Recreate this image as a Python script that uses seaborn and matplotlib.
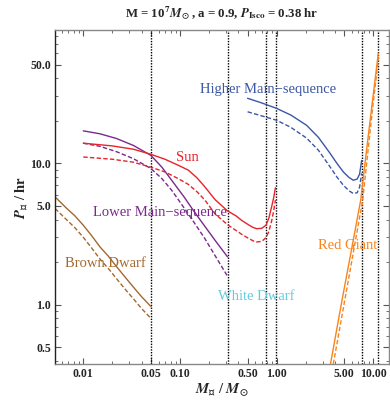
import numpy as np
import pandas as pd
import matplotlib
matplotlib.use("Agg")
import matplotlib.pyplot as plt
from matplotlib.ticker import FixedLocator, FixedFormatter, LogLocator, NullFormatter
import seaborn as sns

# ---------------- data ----------------
bd_x = [0.0051, 0.0067, 0.0082, 0.01, 0.0122, 0.0149, 0.0182, 0.0222, 0.027, 0.033, 0.04, 0.05]
bd_solid = [5.8, 4.82, 4.25, 3.65, 3.08, 2.56, 2.2, 1.85, 1.57, 1.33, 1.14, 0.97]
bd_dashed = [4.8, 4.0, 3.5, 3.0, 2.52, 2.1, 1.8, 1.52, 1.29, 1.1, 0.94, 0.80]

lms_x = [0.01, 0.0149, 0.0221, 0.033, 0.05, 0.065, 0.082, 0.11, 0.137, 0.18, 0.23, 0.31]
lms_solid = [17.0, 16.2, 15.0, 13.4, 11.4, 9.4, 7.6, 5.8, 4.66, 3.6, 2.86, 2.18]
lms_dashed = [13.9, 13.2, 12.1, 10.8, 9.2, 7.8, 6.46, 4.85, 3.9, 2.95, 2.23, 1.59]

sun_x = [0.01, 0.02, 0.033, 0.05, 0.07, 0.096, 0.122, 0.15, 0.181, 0.23, 0.31, 0.38,
         0.434, 0.51, 0.57, 0.62, 0.7, 0.775, 0.83, 0.886, 0.93, 0.97]
sun_solid = [13.9, 13.3, 12.6, 11.6, 10.7, 9.7, 8.96, 7.9, 6.82, 5.55, 4.61, 4.25,
             3.95, 3.68, 3.52, 3.45, 3.47, 3.65, 4.1, 4.92, 5.7, 6.72]
sun_dashed = [11.1, 10.7, 10.2, 9.4, 8.7, 7.8, 7.1, 6.3, 5.5, 4.4, 3.68, 3.35,
              3.15, 2.95, 2.83, 2.78, 2.8, 2.98, 3.3, 3.9, 4.6, 5.5]

hms_x = [0.5, 0.7, 1.0, 1.4, 2.04, 2.7, 3.56, 4.2, 4.89, 5.6, 6.2, 6.8, 7.2, 7.56]
hms_solid = [28.9, 26.8, 24.5, 22.0, 18.6, 15.3, 11.8, 10.0, 8.7, 7.95, 7.6, 7.75, 8.4, 10.5]
hms_dashed = [23.2, 21.7, 20.2, 18.0, 15.1, 12.4, 9.46, 8.0, 7.0, 6.4, 6.12, 6.2, 6.8, 8.5]

rg_x_solid = [3.6, 4.73, 6.01, 7.39, 8.38, 9.67, 11.24]
rg_solid = [0.38, 1.07, 2.56, 5.49, 11.45, 25.9, 60.3]
rg_x_dashed = [3.85, 5.05, 6.35, 7.75, 8.7, 9.9, 11.3]
rg_dashed = [0.38, 1.07, 2.56, 5.49, 11.45, 25.9, 56.0]

vlines_x = [0.05, 0.31, 0.78, 0.975, 7.56, 11.2]

labels = ["Higher Main\u2212sequence", "Sun", "Lower Main\u2212sequence",
          "Brown Dwarf", "White Dwarf", "Red Giant"]
label_x = [0.81, 0.118, 0.0622, 0.0168, 0.61, 5.47]
label_y = [33.6, 11.1, 4.51, 1.96, 1.14, 2.63]

xtick_vals = [0.01, 0.05, 0.1, 0.5, 1.0, 5.0, 10.0]
xtick_labels = ["0.01", "0.05", "0.10", "0.50", "1.00", "5.00", "10.00"]
ytick_vals = [0.5, 1.0, 5.0, 10.0, 50.0]
ytick_labels = ["0.5", "1.0", "5.0", "10.0", "50.0"]

# ---------------- style ----------------
sns.set_style("ticks")
plt.rcParams["font.family"] = ["Liberation Serif", "DejaVu Serif"]
plt.rcParams["font.weight"] = "bold"
plt.rcParams["mathtext.fontset"] = "custom"
plt.rcParams["mathtext.rm"] = "STIXGeneral:bold"
plt.rcParams["mathtext.it"] = "STIXGeneral:italic:bold"
plt.rcParams["mathtext.bf"] = "STIXGeneral:bold"
plt.rcParams["mathtext.fallback"] = "stix"

col_blue = "#3b57a6"
col_red = "#e8232b"
col_purple = "#7a2a8a"
col_brown = "#a3692f"
col_cyan = "#66cade"
col_orange = "#f7841e"

fig = plt.figure(figsize=(3.90, 4.03), dpi=100)
ax = fig.add_axes([55 / 390, 1 - 364 / 403, (389 - 55) / 390, (364 - 30) / 403])

dash = (0, (3.2, 1.6))
lw = 1.0

def draw(x, y, color, ls):
    sns.lineplot(x=x, y=y, ax=ax, color=color, linewidth=lw, sort=False,
                 estimator=None, linestyle=ls)

for x, ys, yd, c in [(bd_x, bd_solid, bd_dashed, col_brown),
                     (lms_x, lms_solid, lms_dashed, col_purple),
                     (sun_x, sun_solid, sun_dashed, col_red),
                     (hms_x, hms_solid, hms_dashed, col_blue)]:
    draw(x, ys, c, "-")
    draw(x, yd, c, dash)

draw(rg_x_solid, rg_solid, col_orange, "-")
draw(rg_x_dashed, rg_dashed, col_orange, dash)

for v in vlines_x:
    ax.axvline(v, color="black", linewidth=1.0, linestyle=(0, (1, 1)), zorder=1)

ax.set_xscale("log")
ax.set_yscale("log")
ax.set_xlim(0.0051, 14.5)
ax.set_ylim(0.38, 88)

ax.xaxis.set_major_locator(FixedLocator(xtick_vals))
ax.xaxis.set_major_formatter(FixedFormatter(xtick_labels))
ax.yaxis.set_major_locator(FixedLocator(ytick_vals))
ax.yaxis.set_major_formatter(FixedFormatter(ytick_labels))
ax.xaxis.set_minor_locator(LogLocator(base=10, subs=np.arange(2, 10), numticks=20))
ax.yaxis.set_minor_locator(LogLocator(base=10, subs=np.arange(2, 10), numticks=20))
ax.xaxis.set_minor_formatter(NullFormatter())
ax.yaxis.set_minor_formatter(NullFormatter())

ax.tick_params(which="both", direction="in", top=True, right=True, color="#555555",
               labelsize=8.5, pad=3)
ax.tick_params(which="major", length=4, width=0.8)
ax.tick_params(which="minor", length=2, width=0.6)
for lab in ax.get_xticklabels() + ax.get_yticklabels():
    lab.set_fontweight("bold")

for s in ["top", "right", "bottom"]:
    ax.spines[s].set_color("#888888")
    ax.spines[s].set_linewidth(1.0)
ax.spines["left"].set_color("#222222")
ax.spines["left"].set_linewidth(1.0)

label_colors = [col_blue, col_red, col_purple, col_brown, col_cyan, col_orange]
for t, x, y, c in zip(labels, label_x, label_y, label_colors):
    ax.text(x, y, t, color=c, fontsize=10.5, ha="center", va="center", fontweight="normal")

xl = ax.set_xlabel(r"$\mathbfit{M}_{\star}$ / $\mathbfit{M}_{\odot}$", fontsize=10.5,
                   fontweight="bold", labelpad=1)
yl = ax.set_ylabel(r"$\mathbfit{P}_{\star}$ / hr", fontsize=10.5, fontweight="bold", labelpad=0)
xl.set_math_fontfamily("stix")
yl.set_math_fontfamily("stix")

fig.text(222 / 390, 1 - 13 / 403,
         r"M = 10$^7$$M_\odot$, a = 0.9, $P_{\rm Isco}$ = 0.38 hr",
         ha="center", va="center", fontsize=9.3, fontweight="bold")

fig.savefig("out.png", dpi=100)
